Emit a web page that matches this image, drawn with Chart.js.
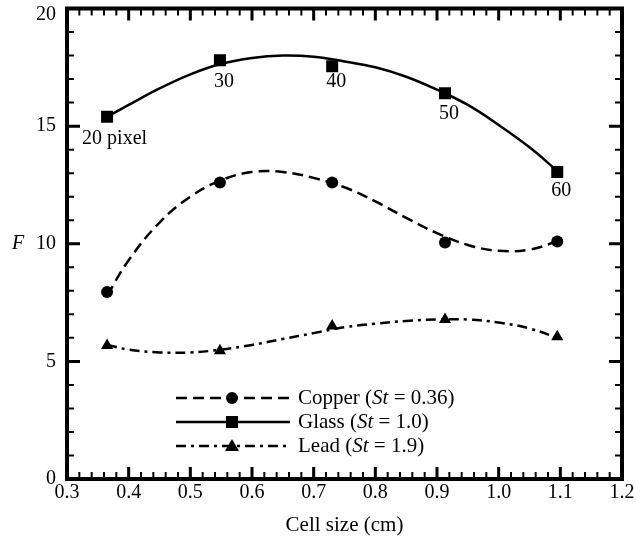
<!DOCTYPE html>
<html>
<head>
<meta charset="utf-8">
<script src="https://cdn.jsdelivr.net/npm/chart.js@4"></script>
<style>
  body { margin: 0; background: #fff; }
  #wrap { width: 636px; height: 542px; }
</style>
</head>
<body>
<div id="wrap"><canvas id="chart" width="636" height="542"></canvas></div>
<script>
// measured points (cell size in cm for 20..60 pixel cells)
const cellSize = [0.365, 0.548, 0.730, 0.913, 1.095];
const pixelLabels = ['20 pixel', '30', '40', '50', '60'];
const glass = [15.4, 17.8, 17.55, 16.4, 13.05];
const copper = [7.95, 12.6, 12.6, 10.05, 10.1];
const lead = [5.68, 5.45, 6.5, 6.78, 6.05];

// fitted curves
const fitX = [0.365, 0.4, 0.45, 0.5, 0.55, 0.6, 0.65, 0.7, 0.75, 0.8, 0.85, 0.9, 0.95, 1.0, 1.05, 1.095];
const glassFit = [15.4, 15.9, 16.6, 17.2, 17.65, 17.9, 18.0, 17.95, 17.75, 17.5, 17.1, 16.55, 15.9, 15.05, 14.1, 13.1];
const copperFit = [7.8, 9.3, 10.9, 12.0, 12.7, 13.05, 13.05, 12.8, 12.4, 11.8, 11.1, 10.45, 9.95, 9.7, 9.75, 10.1];
const leadFit = [5.7, 5.5, 5.38, 5.38, 5.5, 5.7, 5.95, 6.2, 6.45, 6.6, 6.72, 6.78, 6.78, 6.65, 6.4, 6.0];

const xTicks = [0.3, 0.4, 0.5, 0.6, 0.7, 0.8, 0.9, 1.0, 1.1, 1.2];
const yTicks = [0, 5, 10, 15, 20];

const SERIF = '"Liberation Serif", "DejaVu Serif", serif';
const DASH = [11, 6];
const DASHDOT = [10, 5, 3, 5];

function pts(xs, ys) {
    return xs.map((x, i) => ({ x: x, y: ys[i] }));
}

function curve(data, dash) {
    return {
        data: data,
        showLine: true,
        borderColor: '#000',
        borderWidth: 2.5,
        borderDash: dash,
        pointRadius: 0,
        tension: 0.4,
        fill: false
    };
}

function marks(data, style) {
    const r = { rect: 8.5, circle: 6, triangle: 7 };
    return {
        data: data,
        showLine: false,
        pointStyle: style,
        pointRadius: r[style],
        backgroundColor: '#000',
        borderColor: '#000',
        borderWidth: 0
    };
}

// frame, inward ticks, legend, labels
const decor = {
    id: 'decor',
    afterDraw(chart) {
        const ctx = chart.ctx;
        const a = chart.chartArea;
        const xs = chart.scales.x, ys = chart.scales.y;
        ctx.save();
        ctx.strokeStyle = '#000';
        ctx.fillStyle = '#000';

        // tick marks
        for (let i = 0; i <= 45; i++) {
            const px = xs.getPixelForValue(0.3 + i * 0.02);
            const len = i % 5 === 0 ? 12 : 7;
            ctx.lineWidth = i % 5 === 0 ? 3 : 2;
            ctx.beginPath();
            ctx.moveTo(px, a.bottom); ctx.lineTo(px, a.bottom - len);
            ctx.moveTo(px, a.top); ctx.lineTo(px, a.top + len);
            ctx.stroke();
        }
        for (let i = 0; i <= 20; i++) {
            const py = ys.getPixelForValue(i);
            const len = i % 5 === 0 ? 13 : 7;
            ctx.lineWidth = i % 5 === 0 ? 3 : 2;
            ctx.beginPath();
            ctx.moveTo(a.left, py); ctx.lineTo(a.left + len, py);
            ctx.moveTo(a.right, py); ctx.lineTo(a.right - len, py);
            ctx.stroke();
        }

        // frame
        ctx.lineWidth = 4;
        ctx.strokeRect(a.left, a.top, a.right - a.left, a.bottom - a.top);

        // F label
        ctx.font = 'italic 20px ' + SERIF;
        ctx.textAlign = 'left';
        ctx.textBaseline = 'middle';
        ctx.fillText('F', 12, 244);

        // pixel labels next to the glass squares
        ctx.font = '20px ' + SERIF;
        const dy = [22, 21, 16, 21, 19];
        cellSize.forEach((c, i) => {
            const px = xs.getPixelForValue(c);
            const py = ys.getPixelForValue(glass[i]);
            if (i === 0) {
                ctx.textAlign = 'left';
                ctx.fillText(pixelLabels[i], px - 25, py + dy[i]);
            } else {
                ctx.textAlign = 'center';
                ctx.fillText(pixelLabels[i], px + 4, py + dy[i]);
            }
        });

        // legend
        const rows = [
            { dash: DASH, style: 'circle', name: 'Copper (', val: ' = 0.36)' },
            { dash: [], style: 'rect', name: 'Glass (', val: ' = 1.0)' },
            { dash: DASHDOT, style: 'triangle', name: 'Lead (', val: ' = 1.9)' }
        ];
        const x0 = 176, x1 = 290, xm = 232;
        rows.forEach((r, i) => {
            const y = 398 + i * 24;
            ctx.lineWidth = 2.5;
            ctx.setLineDash(r.dash);
            ctx.beginPath();
            ctx.moveTo(x0, y); ctx.lineTo(x1, y);
            ctx.stroke();
            ctx.setLineDash([]);
            ctx.beginPath();
            if (r.style === 'circle') {
                ctx.arc(xm, y, 6, 0, Math.PI * 2);
            } else if (r.style === 'rect') {
                ctx.rect(xm - 6, y - 6, 12, 12);
            } else {
                ctx.moveTo(xm, y - 7); ctx.lineTo(xm + 7, y + 5); ctx.lineTo(xm - 7, y + 5);
                ctx.closePath();
            }
            ctx.fill();

            let tx = 298;
            ctx.textAlign = 'left';
            ctx.font = '21px ' + SERIF;
            ctx.fillText(r.name, tx, y);
            tx += ctx.measureText(r.name).width;
            ctx.font = 'italic 21px ' + SERIF;
            ctx.fillText('St', tx, y);
            tx += ctx.measureText('St').width;
            ctx.font = '21px ' + SERIF;
            ctx.fillText(r.val, tx, y);
        });
        ctx.restore();
    }
};

new Chart(document.getElementById('chart').getContext('2d'), {
    type: 'scatter',
    data: {
        datasets: [
            curve(pts(fitX, copperFit), DASH),
            curve(pts(fitX, glassFit), []),
            curve(pts(fitX, leadFit), DASHDOT),
            marks(pts(cellSize, copper), 'circle'),
            marks(pts(cellSize, glass), 'rect'),
            marks(pts(cellSize, lead), 'triangle')
        ]
    },
    options: {
        responsive: false,
        animation: false,
        layout: { padding: { left: 0, right: 14, top: 6, bottom: 0 } },
        plugins: {
            legend: { display: false },
            tooltip: { enabled: false }
        },
        scales: {
            x: {
                type: 'linear',
                min: 0.3,
                max: 1.2,
                afterBuildTicks: s => { s.ticks = xTicks.map(v => ({ value: v })); },
                afterFit: s => { s.height = 63; s.paddingLeft = 0; s.paddingRight = 0; },
                grid: { display: false, drawTicks: false },
                border: { display: false },
                ticks: {
                    padding: 2,
                    color: '#000',
                    font: { family: SERIF, size: 20 },
                    callback: v => v.toFixed(1)
                },
                title: {
                    display: true,
                    text: 'Cell size (cm)',
                    color: '#000',
                    font: { family: SERIF, size: 21 },
                    padding: { top: 2, bottom: 4 }
                }
            },
            y: {
                min: 0,
                max: 20,
                afterBuildTicks: s => { s.ticks = yTicks.map(v => ({ value: v })); },
                afterFit: s => { s.width = 67; s.paddingTop = 0; s.paddingBottom = 0; },
                grid: { display: false, drawTicks: false },
                border: { display: false },
                ticks: {
                    padding: 11,
                    color: '#000',
                    font: { family: SERIF, size: 20, lineHeight: 0.6 },
                    callback: v => (v === 20 ? ['', '20'] : String(v))
                }
            }
        }
    },
    plugins: [decor]
});
</script>
</body>
</html>
